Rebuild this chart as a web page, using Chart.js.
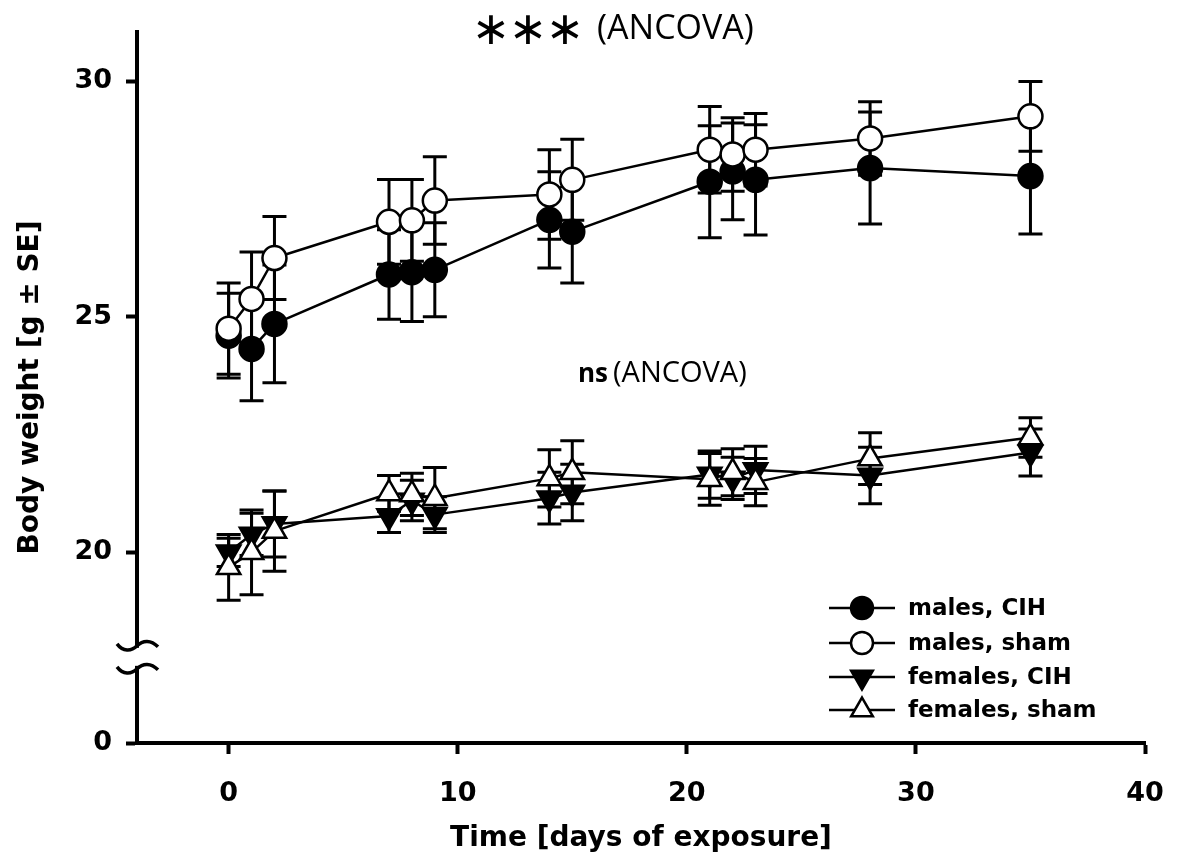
<!DOCTYPE html>
<html>
<head>
<meta charset="utf-8">
<script src="https://cdn.jsdelivr.net/npm/chart.js@4.4.1/dist/chart.umd.min.js"></script>
<style>
    html, body { margin: 0; padding: 0; background: #fff; }
    #wrap { width: 1177px; height: 865px; }
</style>
</head>
<body>
<div id="wrap"><canvas id="myChart" width="1177" height="865"></canvas></div>
<script>
// days of exposure
const days = [0, 1, 2, 7, 8, 9, 14, 15, 21, 22, 23, 28, 35];

// body weight (g) and standard errors per group
const malesCIH = [24.6, 24.32, 24.85, 25.9, 25.95, 26.0, 27.06, 26.81, 27.87, 28.09, 27.91, 28.16, 27.99];
const malesCIHSE = [0.9, 1.1, 1.25, 0.95, 1.05, 1.0, 1.02, 1.09, 1.19, 1.03, 1.17, 1.19, 1.23];
const malesSham = [24.75, 25.38, 26.25, 27.02, 27.05, 27.47, 27.6, 27.91, 28.55, 28.45, 28.55, 28.79, 29.26];
const malesShamSE = [0.97, 1.0, 0.88, 0.9, 0.87, 0.93, 0.95, 0.86, 0.92, 0.78, 0.77, 0.78, 0.74];
const femalesCIH = [20.0, 20.38, 20.6, 20.77, 21.1, 20.8, 21.15, 21.27, 21.65, 21.57, 21.75, 21.63, 22.12];
const femalesCIHSE = [0.3, 0.45, 0.7, 0.35, 0.43, 0.38, 0.55, 0.6, 0.5, 0.45, 0.5, 0.6, 0.5];
const femalesSham = [19.68, 20.0, 20.45, 21.25, 21.23, 21.15, 21.57, 21.7, 21.55, 21.7, 21.49, 21.99, 22.44];
const femalesShamSE = [0.7, 0.9, 0.85, 0.38, 0.45, 0.65, 0.61, 0.67, 0.55, 0.5, 0.5, 0.55, 0.42];

const seriesNames = ['males, CIH', 'males, sham', 'females, CIH', 'females, sham'];

// axis ticks; the y axis is broken below 20 and its foot is labelled 0
const xTickValues = [0, 10, 20, 30, 40];
const yTickValues = [20, 25, 30];
const yFootLabel = '0';
const yFoot = 15.95;
const yTop = 31.05;
const yBreakAt = 17.78;

const topNote = '(ANCOVA)';
const bottomNote = '(ANCOVA)';

const BOLD = 'bold 23px "DejaVu Sans"';

function points(values) {
    return days.map((d, i) => ({ x: d, y: values[i] }));
}

function series(label, values, errors, filled, style, rotation, order) {
    return {
        label: label,
        data: points(values),
        errors: errors,
        order: order,
        borderColor: '#000',
        borderWidth: 2.5,
        backgroundColor: '#000',
        pointStyle: style,
        rotation: rotation,
        pointRadius: style === 'circle' ? 12 : 13.5,
        pointBorderWidth: 2.5,
        pointBorderColor: '#000',
        pointBackgroundColor: filled ? '#000' : '#fff',
        tension: 0,
        fill: false,
    };
}

function drawMarker(ctx, ds, x, y) {
    const r = ds.pointRadius;
    ctx.save();
    ctx.beginPath();
    if (ds.pointStyle === 'circle') {
        ctx.arc(x, y, r, 0, Math.PI * 2);
    } else {
        let rad = ds.rotation * Math.PI / 180;
        for (let k = 0; k < 3; k++) {
            const px = x + Math.sin(rad) * r;
            const py = y - Math.cos(rad) * r;
            if (k === 0) ctx.moveTo(px, py); else ctx.lineTo(px, py);
            rad += Math.PI * 2 / 3;
        }
        ctx.closePath();
    }
    ctx.fillStyle = ds.pointBackgroundColor;
    ctx.fill();
    ctx.lineWidth = ds.pointBorderWidth;
    ctx.strokeStyle = '#000';
    ctx.stroke();
    ctx.restore();
}

// vertical SE bars with caps, under every line and marker
const errorBars = {
    id: 'errorBars',
    beforeDatasetsDraw(chart) {
        const ctx = chart.ctx;
        const yScale = chart.scales.y;
        ctx.save();
        ctx.strokeStyle = '#000';
        ctx.lineWidth = 3;
        chart.data.datasets.forEach((ds, di) => {
            const meta = chart.getDatasetMeta(di);
            meta.data.forEach((pt, i) => {
                const v = ds.data[i].y;
                const e = ds.errors[i];
                const top = yScale.getPixelForValue(v + e);
                const bot = yScale.getPixelForValue(v - e);
                ctx.beginPath();
                ctx.moveTo(pt.x, top);
                ctx.lineTo(pt.x, bot);
                ctx.moveTo(pt.x - 12, top);
                ctx.lineTo(pt.x + 12, top);
                ctx.moveTo(pt.x - 12, bot);
                ctx.lineTo(pt.x + 12, bot);
                ctx.stroke();
            });
        });
        ctx.restore();
    }
};

// axis break, key and the two ANCOVA notes
const decorations = {
    id: 'decorations',
    afterDraw(chart) {
        const ctx = chart.ctx;
        const area = chart.chartArea;
        const yb = chart.scales.y.getPixelForValue(yBreakAt);
        const ax = area.left;

        ctx.save();
        ctx.fillStyle = '#fff';
        ctx.fillRect(ax - 4, yb - 9, 8, 18);
        ctx.strokeStyle = '#000';
        ctx.lineWidth = 3.5;
        [yb - 11, yb + 12].forEach(cy => {
            ctx.beginPath();
            ctx.moveTo(ax - 20, cy - 2);
            ctx.bezierCurveTo(ax - 14, cy + 6, ax - 6, cy + 6, ax, cy);
            ctx.bezierCurveTo(ax + 6, cy - 6, ax + 14, cy - 6, ax + 21, cy + 1);
            ctx.stroke();
        });

        // key
        const rows = [608, 643, 677, 710];
        chart.data.datasets.forEach((ds, i) => {
            const y = rows[i];
            ctx.beginPath();
            ctx.lineWidth = 2.5;
            ctx.moveTo(829, y);
            ctx.lineTo(895, y);
            ctx.stroke();
            drawMarker(ctx, Object.assign({}, ds, { pointRadius: ds.pointRadius - 1 }), 862, y);
            ctx.fillStyle = '#000';
            ctx.font = BOLD;
            ctx.textBaseline = 'middle';
            ctx.textAlign = 'left';
            ctx.fillText(seriesNames[i], 908, y + 1);
        });

        // significance notes
        ctx.fillStyle = '#000';
        ctx.textBaseline = 'middle';
        ctx.textAlign = 'center';
        ctx.font = '46px "DejaVu Sans"';
        [491, 528, 565].forEach(x => ctx.fillText('\u2217', x, 32));
        ctx.textAlign = 'left';
        ctx.font = '34px "Open Sans"';
        ctx.fillText(topNote, 597, 29);
        ctx.font = 'bold 26px "Open Sans"';
        ctx.fillText('ns', 578, 375);
        ctx.font = '29px "Open Sans"';
        ctx.fillText(bottomNote, 613, 374);
        ctx.restore();
    }
};

const yTickFont = { family: 'DejaVu Sans', weight: 'bold', size: 27 };
const xTickFont = { family: 'DejaVu Sans', weight: 'bold', size: 27, lineHeight: 2.2 };
const titleFont = { family: 'DejaVu Sans', weight: 'bold', size: 28 };

const ctx = document.getElementById('myChart').getContext('2d');
const chart = new Chart(ctx, {
    type: 'line',
    data: {
        datasets: [
            series(seriesNames[0], malesCIH, malesCIHSE, true, 'circle', 0, 1),
            series(seriesNames[1], malesSham, malesShamSE, false, 'circle', 0, 0),
            series(seriesNames[2], femalesCIH, femalesCIHSE, true, 'triangle', 180, 3),
            series(seriesNames[3], femalesSham, femalesShamSE, false, 'triangle', 0, 2),
        ],
    },
    options: {
        responsive: false,
        animation: false,
        devicePixelRatio: 1,
        layout: { padding: { top: 32, right: 32, left: 0, bottom: 0 } },
        plugins: {
            legend: { display: false },
            tooltip: { enabled: false },
        },
        elements: { line: { borderJoinStyle: 'round' } },
        scales: {
            x: {
                type: 'linear',
                min: -4,
                max: 40,
                afterBuildTicks: (scale) => { scale.ticks = xTickValues.map(v => ({ value: v })); },
                afterFit: (scale) => { scale.height = 122; },
                border: { display: true, color: '#000', width: 4 },
                grid: { drawOnChartArea: false, drawTicks: true, tickLength: 11, tickWidth: 4, tickColor: '#000' },
                ticks: { color: '#000', font: xTickFont, padding: 10, autoSkip: false, maxRotation: 0 },
                title: { display: true, text: 'Time [days of exposure]', color: '#000', font: titleFont, padding: { bottom: 9 } },
            },
            y: {
                type: 'linear',
                min: yFoot,
                max: yTop,
                afterBuildTicks: (scale) => {
                    scale.ticks = [{ value: yFoot }].concat(yTickValues.map(v => ({ value: v })));
                },
                afterFit: (scale) => { scale.width = 137; },
                border: { display: true, color: '#000', width: 4 },
                grid: { drawOnChartArea: false, drawTicks: true, tickLength: 11, tickWidth: 4, tickColor: '#000' },
                ticks: {
                    color: '#000',
                    font: yTickFont,
                    padding: 14,
                    autoSkip: false,
                    callback: (v) => (v < yTickValues[0] ? yFootLabel : v),
                },
                title: { display: true, text: 'Body weight [g \u00B1 SE]', color: '#000', font: titleFont, padding: { top: 14 } },
            },
        },
    },
    plugins: [errorBars, decorations],
});
</script>
</body>
</html>
